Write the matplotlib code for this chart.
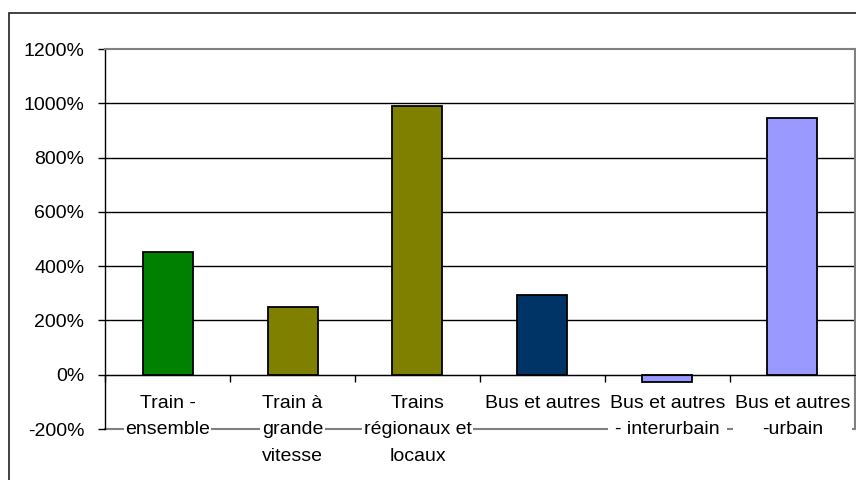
import matplotlib.pyplot as plt
from matplotlib.patches import Rectangle
import numpy as np

plt.rcParams['font.family'] = ['Liberation Sans', 'DejaVu Sans']

categories = ["Train -\nensemble", "Train à\ngrande\nvitesse", "Trains\nrégionaux et\nlocaux",
	"Bus et autres", "Bus et autres\n- interurbain", "Bus et autres\n-urbain"]
values = [452, 250, 990, 295, -28, 945]
colors = ["#008000", "#808000", "#808000", "#003366", "#9999ff", "#9999ff"]
yticks = [-200, 0, 200, 400, 600, 800, 1000, 1200]

fig = plt.figure(figsize=(8.56, 4.8), dpi=100)
ax = fig.add_axes([105 / 856, 51 / 480, 750 / 856, 380 / 480])

# cadre extérieur du graphique
fig.patches.append(Rectangle((9 / 856, -0.1), 1.2, (480 - 13) / 480 + 0.1,
	transform=fig.transFigure, fill=False, edgecolor="#333333", lw=1.3))

x = np.arange(len(categories))
ax.bar(x, values, width=0.4, color=colors, edgecolor="black", lw=1.3, zorder=3)

ax.set_xlim(-0.5, len(categories) - 0.5)
ax.set_ylim(yticks[0], yticks[-1])
ax.set_yticks(yticks)
ax.set_yticklabels([f"{v}%" for v in yticks], fontsize=14)
ax.tick_params(axis="y", length=5, width=1, pad=10, color="black")

for v in yticks[1:-1]:
	ax.axhline(v, color="black", lw=1, zorder=1)

for side in ["top", "right"]:
	ax.spines[side].set_color("#808080")
	ax.spines[side].set_linewidth(1.5)
ax.spines["left"].set_color("black")
ax.spines["left"].set_linewidth(1)
ax.axhline(yticks[0], color="#808080", lw=1.5, zorder=1, clip_on=False)

# axe des catégories sur la ligne du zéro
ax.spines["bottom"].set_position(("data", 0))
ax.spines["bottom"].set_color("black")
ax.spines["bottom"].set_zorder(4)
ax.set_xticks(np.arange(len(categories) + 1) - 0.5)
ax.set_xticklabels([])
ax.tick_params(axis="x", direction="out", length=5, width=1, color="black")

for i, label in enumerate(categories):
	ax.annotate(label, (i, 0), xytext=(0, -20), textcoords="offset pixels",
		ha="center", va="top", fontsize=14, linespacing=1.74, zorder=5,
		bbox=dict(facecolor="white", edgecolor="none", pad=1))

fig.savefig("out.png", dpi=100)
